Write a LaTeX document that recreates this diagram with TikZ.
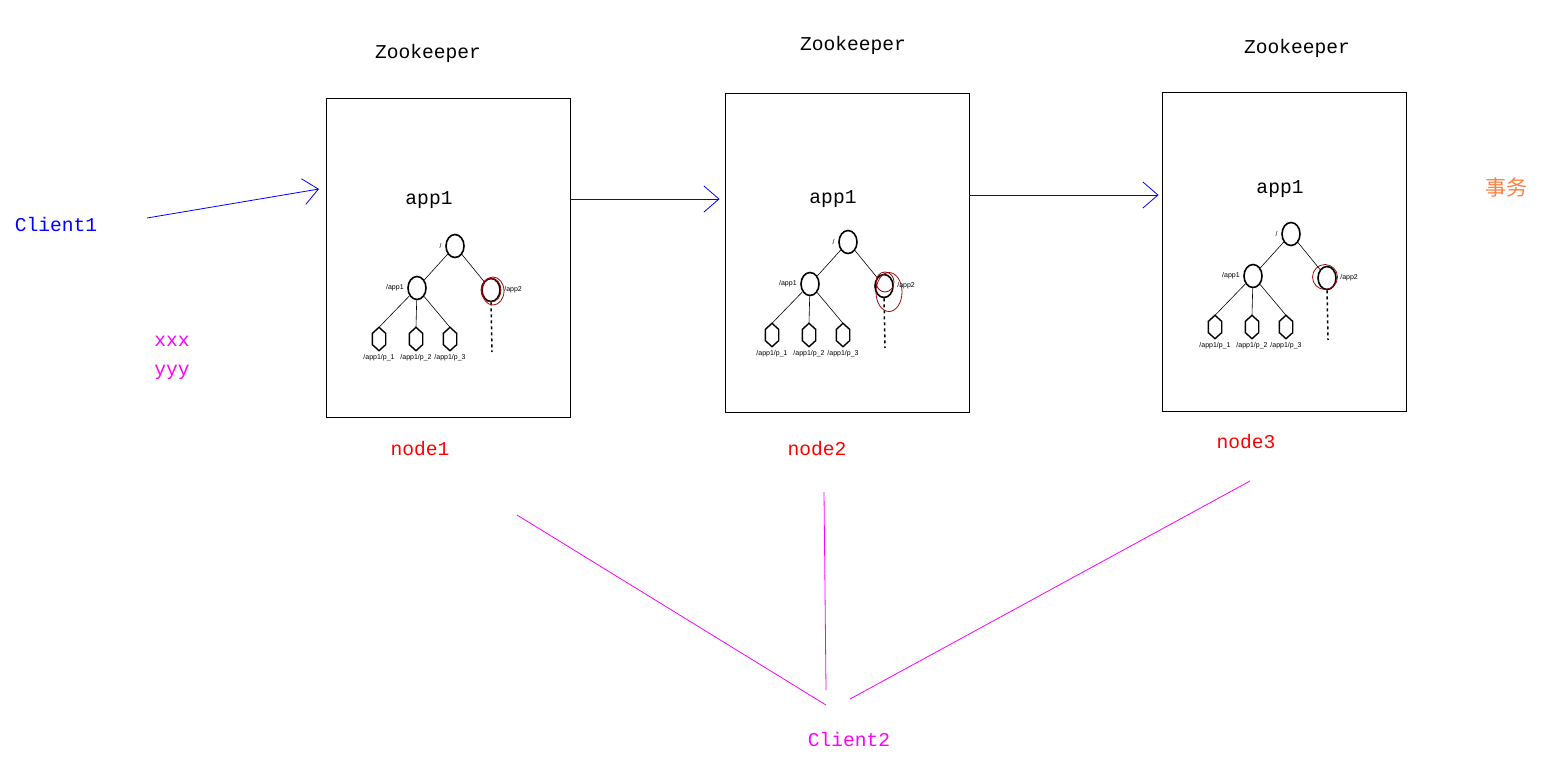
\documentclass[tikz,border=0pt]{standalone}
\usepackage{fontspec}
\setmonofont{Liberation Mono}
\newfontfamily\cjk{Noto Sans CJK SC}
\newfontfamily\treefont{Liberation Sans}
\usetikzlibrary{arrows.meta,calc,shapes.geometric}
\definecolor{cblue}{RGB}{0,0,255}
\definecolor{cpink}{RGB}{255,0,255}
\definecolor{cred}{RGB}{255,0,0}
\definecolor{corange}{RGB}{255,125,60}
\definecolor{ring}{RGB}{150,10,10}
\begin{document}
\begin{tikzpicture}[x=1pt,y=-1pt,>={Straight Barb[length=15pt,width=26pt]},
  txt/.style={font=\fontsize{19.6}{22}\selectfont\ttfamily},
  zkbox/.style={draw,line width=0.9pt,minimum width=244pt,minimum height=319pt,inner sep=0pt},
  knot/.style={draw,ellipse,line width=1.6pt,minimum width=18pt,minimum height=23pt,inner sep=0pt},
  hexnode/.style={minimum width=13pt,minimum height=23pt,inner sep=0pt},
  leaf/.style={font=\fontsize{7}{8}\selectfont\treefont},
  flow/.style={->,cblue,line width=0.8pt},
  tie/.style={cpink,line width=0.8pt}]
\useasboundingbox (0,0) rectangle (1547,756);

\node[zkbox] (box1) at (448,257.5) {};
\node[zkbox] (box2) at (847,253) {};
\node[zkbox] (box3) at (1284,252) {};
\node[txt] (zk1) at (428,53) {Zookeeper};
\node[txt] (zk2) at (853,45) {Zookeeper};
\node[txt] (zk3) at (1297,48) {Zookeeper};
\node[txt] (t1) at (429,200) {app1};
\node[txt] (t2) at (833,199) {app1};
\node[txt] (t3) at (1280,189) {app1};
\node[txt,cred] (n1) at (420,449) {node1};
\node[txt,cred] (n2) at (817,449) {node2};
\node[txt,cred] (n3) at (1246,442) {node3};

% the znode trees
\foreach \i/\rx/\ry in {1/455/246, 2/848/242, 3/1291/234}{
  \node[knot] (r\i) at (\rx,\ry) {};
  \node[knot] (a\i) at ($(r\i)+(-38,42)$) {};
  \node[knot] (b\i) at ($(r\i)+(36,44)$) {};
  \draw[line width=0.6pt] (r\i) -- (a\i);
  \draw[line width=0.6pt] (r\i) -- (b\i);
  \node[leaf,left] at (r\i.west) {/};
  \node[leaf,left] at (a\i.west) {/app1};
  \node[leaf,right] at (b\i.east) {/app2};
  \foreach \j/\dx in {1/-38, 2/-1, 3/33}{
    \node[hexnode] (h\i\j) at ($(a\i)+(\dx,51)$) {};
    \draw[line width=0.6pt] (a\i) -- (h\i\j.north);
    \draw[line width=1.4pt] (h\i\j.north) -- ($(h\i\j.north east)!.26!(h\i\j.south east)$)
      -- ($(h\i\j.south east)!.26!(h\i\j.north east)$) -- (h\i\j.south)
      -- ($(h\i\j.south west)!.26!(h\i\j.north west)$)
      -- ($(h\i\j.north west)!.26!(h\i\j.south west)$) -- cycle;
    \node[leaf,below] at (h\i\j.south) {/app1/p\_\j};
  }
  \coordinate (e\i) at ($(b\i)+(1,62)$);
  \draw[line width=1.5pt,dash pattern=on 3pt off 3pt] (b\i.south) -- (e\i);
}

% red marks on /app2
\draw[ring,line width=0.8pt] (b1) ellipse (10 and 12);
\draw[ring,line width=0.8pt] ($(b1)+(2,1)$) ellipse (11 and 14);
\draw[ring,line width=0.8pt] ($(b2)+(1,-4)$) ellipse (9 and 10);
\draw[ring,line width=0.8pt] ($(b2)+(5,6)$) ellipse (13 and 19.5);
\draw[ring,line width=0.8pt] ($(b3)+(-2,-1)$) ellipse (12.5 and 12.5);

\node[txt,cblue] (cl1) at (56,224) {Client1};
\node[txt,cpink] (x1) at (172,341) {xxx};
\node[txt,cpink] (y1) at (172,372) {yyy};
\node[corange,font=\fontsize{21}{24}\selectfont\cjk] (tx) at (1506,188) {事务};
\node[txt,cpink] (cl2) at (849,739) {Client2};

\coordinate (s1) at (147,218);
\coordinate (s2) at (319,189);
\draw[flow] (s1) -- (s2);
\draw[flow] (box1.east |- 0,199) -- ([xshift=-5pt]box2.west |- 0,199);
\draw[flow] (box2.east |- 0,195) -- ([xshift=-3pt]box3.west |- 0,195);

\coordinate (p1) at (517,515);
\coordinate (q1) at (826,705);
\coordinate (p2) at (824,492);
\coordinate (q2) at (826,690);
\coordinate (p3) at (1250,481);
\coordinate (q3) at (850,699);
\draw[tie] (p1) -- (q1);
\draw[tie] (p2) -- (q2);
\draw[tie] (p3) -- (q3);

\end{tikzpicture}
\end{document}
